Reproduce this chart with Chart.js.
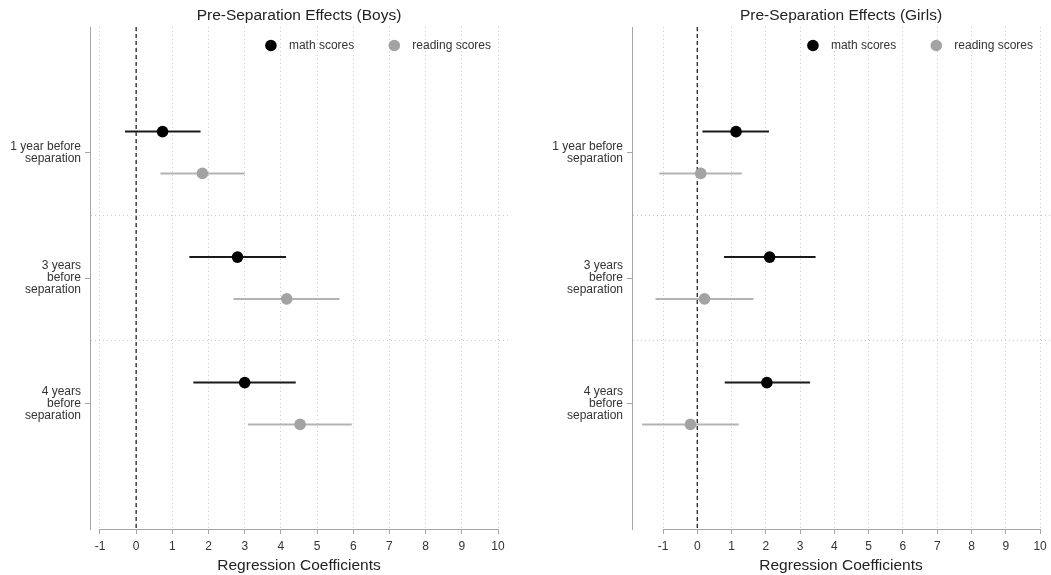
<!DOCTYPE html>
<html>
<head>
<meta charset="utf-8">
<title>Pre-Separation Effects</title>
<script src="https://cdn.jsdelivr.net/npm/chart.js@4.4.1/dist/chart.umd.min.js"></script>
<style>
  html, body { margin: 0; padding: 0; background: #fff; }
  #wrap { position: relative; width: 1051px; height: 575px; overflow: hidden; }
  canvas { position: absolute; top: 0; }
  #boys { left: 0; }
  #girls { left: 542px; }
</style>
</head>
<body>
<div id="wrap">
  <canvas id="boys" width="525" height="575"></canvas>
  <canvas id="girls" width="520" height="575"></canvas>
</div>
<script>
// categories on the vertical axis (top to bottom)
const categories = [
  ["1 year before", "separation"],
  ["3 years", "before", "separation"],
  ["4 years", "before", "separation"]
];
const seriesNames = ["math scores", "reading scores"];
const xTicks = [-1, 0, 1, 2, 3, 4, 5, 6, 7, 8, 9, 10];

// Boys: point estimates and confidence bounds
const boysMath = [0.73, 2.80, 3.00];
const boysMathLo = [-0.31, 1.47, 1.58];
const boysMathHi = [1.78, 4.14, 4.41];
const boysRead = [1.83, 4.16, 4.53];
const boysReadLo = [0.67, 2.69, 3.09];
const boysReadHi = [3.00, 5.62, 5.96];

// Girls
const girlsMath = [1.13, 2.11, 2.03];
const girlsMathLo = [0.15, 0.78, 0.80];
const girlsMathHi = [2.09, 3.45, 3.29];
const girlsRead = [0.10, 0.21, -0.20];
const girlsReadLo = [-1.11, -1.22, -1.61];
const girlsReadHi = [1.30, 1.64, 1.21];

const catPos = [1, 2, 3];
const shift = 1 / 6; // math sits a bit above, reading a bit below the category
const mathColor = "#000000";
const mathLine = "#1a1a1a";
const readColor = "#a3a3a3";
const readLine = "#b3b3b3";
const axisColor = "#a6a6a6";
const gridColor = "#cccccc";
const fontFamily = "'Liberation Sans', Arial, Helvetica, sans-serif";

Chart.defaults.font.family = fontFamily;
Chart.defaults.color = "#333";
Chart.defaults.animation = false;

// horizontal confidence interval segments, one dataset each
function ciDatasets(lo, hi, dy, color) {
  return lo.map((l, i) => ({
    data: [{ x: l, y: catPos[i] + dy }, { x: hi[i], y: catPos[i] + dy }],
    showLine: true,
    borderColor: color,
    borderWidth: 2,
    pointRadius: 0,
    order: 2
  }));
}

// legend inside the plot, top right
const legendPlugin = {
  id: "topLegend",
  afterDraw(chart) {
    const { ctx, chartArea } = chart;
    const items = [
      { label: seriesNames[0], color: mathColor },
      { label: seriesNames[1], color: readColor }
    ];
    ctx.save();
    ctx.font = "12px " + fontFamily;
    ctx.textBaseline = "middle";
    const y = chartArea.top + 18.5;
    let x = chartArea.right - 17;
    for (let i = items.length - 1; i >= 0; i--) {
      const w = ctx.measureText(items[i].label).width;
      const tx = x - w;
      ctx.fillStyle = "#333";
      ctx.fillText(items[i].label, tx, y);
      ctx.fillStyle = items[i].color;
      ctx.beginPath();
      ctx.arc(tx - 18, y, 5.8, 0, Math.PI * 2);
      ctx.fill();
      x = tx - 18 - 40;
    }
    ctx.restore();
  }
};

// x axis line only spans the tick range
const axisLinePlugin = {
  id: "xAxisLine",
  beforeDatasetsDraw(chart) {
    const s = chart.scales.x;
    const ctx = chart.ctx;
    const y = Math.round(s.top) + 0.5;
    ctx.save();
    ctx.strokeStyle = axisColor;
    ctx.lineWidth = 1;
    ctx.beginPath();
    ctx.moveTo(s.getPixelForValue(xTicks[0]), y);
    ctx.lineTo(s.getPixelForValue(xTicks[xTicks.length - 1]), y);
    ctx.stroke();
    ctx.restore();
  }
};

function makePanel(id, title, m, mLo, mHi, r, rLo, rHi, xMin, xMax, padRight) {
  const isCat = (c) => c.tick && Number.isInteger(c.tick.value);
  return new Chart(document.getElementById(id), {
    type: "scatter",
    data: {
      datasets: [
        {
          label: seriesNames[0],
          data: m.map((v, i) => ({ x: v, y: catPos[i] - shift })),
          backgroundColor: mathColor,
          borderWidth: 0,
          pointRadius: 5.8,
          order: 0
        },
        {
          label: seriesNames[1],
          data: r.map((v, i) => ({ x: v, y: catPos[i] + shift })),
          backgroundColor: readColor,
          borderWidth: 0,
          pointRadius: 5.8,
          order: 0
        },
        ...ciDatasets(mLo, mHi, -shift, mathLine),
        ...ciDatasets(rLo, rHi, shift, readLine),
        {
          data: [{ x: 0, y: 0 }, { x: 0, y: 4 }],
          showLine: true,
          borderColor: "#333",
          borderWidth: 1.4,
          borderDash: [4, 3],
          pointRadius: 0,
          order: 3
        }
      ]
    },
    options: {
      responsive: false,
      animation: false,
      layout: { padding: { left: 0, right: padRight, top: 0, bottom: 0 } },
      plugins: {
        legend: { display: false },
        tooltip: { enabled: false },
        title: {
          display: true,
          text: title,
          fullSize: false,
          color: "#222",
          font: { size: 15.5, weight: "normal" },
          padding: { top: 6, bottom: 2.4 }
        }
      },
      scales: {
        x: {
          type: "linear",
          min: xMin,
          max: xMax,
          afterBuildTicks: (s) => { s.ticks = xTicks.map((v) => ({ value: v })); },
          afterFit: (s) => { s.height = 46; },
          grid: { color: gridColor, lineWidth: 1, tickColor: axisColor, tickLength: 5, tickBorderDash: [] },
          border: { display: false, dash: [1, 3] },
          ticks: { padding: 5, font: { size: 12 }, color: "#333", autoSkip: false, maxRotation: 0 },
          title: {
            display: true,
            text: "Regression Coefficients",
            color: "#222",
            font: { size: 15.5 },
            padding: { top: 0, bottom: 0 }
          }
        },
        y: {
          type: "linear",
          reverse: true,
          min: 0,
          max: 4,
          afterBuildTicks: (s) => { s.ticks = [1, 1.5, 2, 2.5, 3].map((v) => ({ value: v })); },
          afterFit: (s) => { s.width = 90; },
          grid: {
            color: (c) => (isCat(c) ? "rgba(0,0,0,0)" : gridColor),
            tickColor: (c) => (isCat(c) ? axisColor : "rgba(0,0,0,0)"),
            tickLength: 5,
            tickBorderDash: []
          },
          border: { display: true, color: axisColor, width: 1, dash: [1, 3] },
          ticks: {
            padding: 4,
            autoSkip: false,
            color: "#333",
            font: { size: 12, lineHeight: 1 },
            callback: (v) => (Number.isInteger(v) ? categories[v - 1] : "")
          }
        }
      }
    },
    plugins: [legendPlugin, axisLinePlugin]
  });
}

makePanel("boys", "Pre-Separation Effects (Boys)",
  boysMath, boysMathLo, boysMathHi, boysRead, boysReadLo, boysReadHi, -1.276, 10.276, 17);
makePanel("girls", "Pre-Separation Effects (Girls)",
  girlsMath, girlsMathLo, girlsMathHi, girlsRead, girlsReadLo, girlsReadHi, -1.905, 10.29, 12);
</script>
</body>
</html>
